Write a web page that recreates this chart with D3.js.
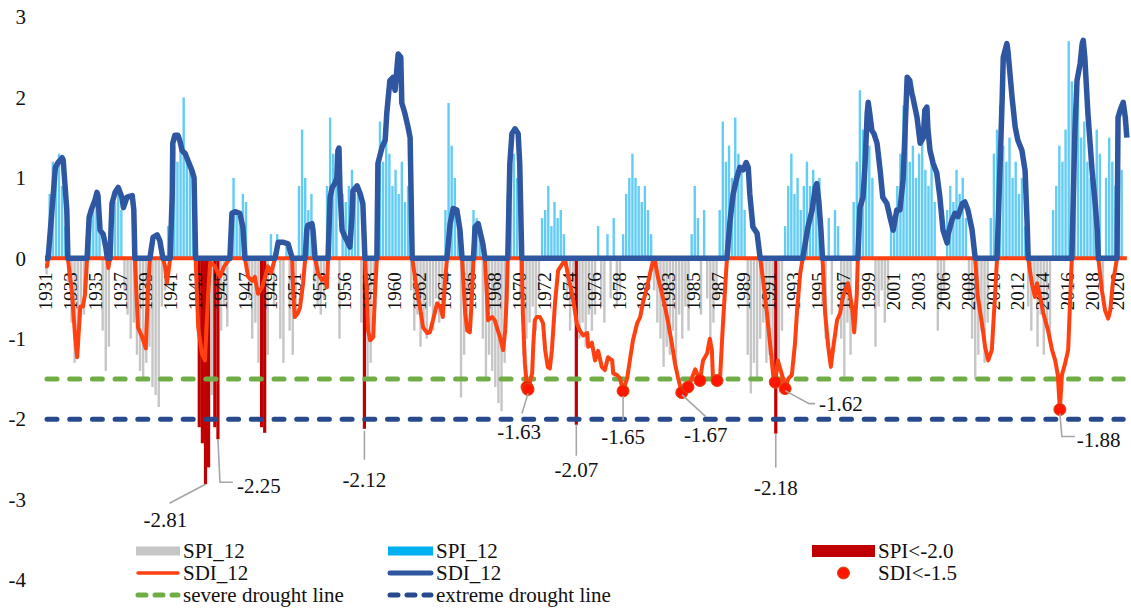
<!DOCTYPE html>
<html>
  <head>
    <meta charset="utf-8">
    <title>SPI_12 and SDI_12, 1931-2020</title>
    <script src="https://d3js.org/d3.v7.min.js"></script>
    <style>
      body { margin: 0; background: #fff; }
      svg { display: block; }
      text { font-family: "Liberation Serif", "DejaVu Serif", serif; }
    </style>
  </head>
  <body>
    <svg id="chart" width="1131" height="608"></svg>
    <script>
      // category labels, one every 24 months
      years = ["1931","1933","1935","1937","1939","1941","1943","1945","1947","1949","1951","1953","1956","1958",
        "1960","1962","1964","1966","1968","1970","1972","1974","1976","1978","1981","1983","1985","1987","1989",
        "1991","1993","1995","1997","1999","2001","2003","2006","2008","2010","2012","2014","2016","2018","2020"];
      yTicks = [3, 2, 1, 0, -1, -2, -3, -4];

      // SPI_12, read every 3 months (8 values per label step)
      spi = [
        -0.2, 0.8, 1.2, 1.0, 1.3, 0.9, 0.4, -0.3,
        -0.8, -1.3, -1.1, -0.6, -0.7, -0.3, 0.5, 0.6,
        0.7, 0.5, -0.9, -1.4, -1.1, 0.3, 0.7, 0.8,
        0.6, -0.4, -0.7, -1.0, -0.8, -1.2, -1.4, -1.5,
        -1.3, -1.1, -1.6, -1.7, -1.85, -0.6, -0.4, 0.4,
        0.5, 1.4, 1.2, 1.5, 2.0, 1.3, 1.1, 0.7,
        -0.6, -2.1, -2.3, -2.81, -2.6, -1.7, -2.1, -2.25,
        -0.9, -0.6, -0.85, 0.4, 1.0, 0.6, 0.5, 0.8,
        0.7, -0.5, -1.0, -0.8, -1.3, -2.1, -2.17, -1.2,
        0.3, -0.6, 0.3, -1.0, -1.3, 0.2, -0.9, -1.2,
        -0.7, 0.9, 1.6, 1.0, 0.6, 0.8, -0.3, -0.6,
        -0.7, -0.5, 0.9, 1.75, 1.3, 1.0, -1.0, 0.8,
        0.7, 0.9, 1.1, 0.8, 0.9, -0.8, -2.12, -1.5,
        -1.3, -0.4, 1.0, 1.7, 1.2, 1.5, 1.3, 0.9,
        1.1, 0.8, 1.2, 0.7, 0.9, -0.4, -0.9, -0.7,
        -1.1, -0.8, -1.0, -0.6, -0.9, -0.5, -0.8, -0.6,
        0.6, 1.93, 1.4, 1.0, 0.6, -1.73, -1.2, -0.9,
        -0.6, 0.6, 0.5, 0.3, -1.0, -1.5, -1.2, -1.4,
        -1.6, -1.8, -1.9, -1.3, 0.8, 1.5, 1.3, 1.0,
        -0.5, -1.2, -1.0, -0.8, -0.6, -0.9, -0.5, 0.5,
        0.6, 0.9, 0.4, 0.7, 0.5, 0.6, 0.3, -0.5,
        -0.9, -0.6, -2.07, -1.0, -0.8, -1.1, -0.7, -0.9,
        -0.7, 0.4, -0.6, -0.8, 0.3, -0.5, 0.5, -0.6,
        -0.4, 0.3, 0.8, 1.0, 1.3, 1.0, 0.9, 0.7,
        0.9, 0.6, 0.3, -0.4, -0.8, -1.0, -1.35, -1.1,
        -1.2, -0.9, -1.3, -0.7, -1.0, -0.6, -0.9, 0.3,
        0.9, 0.5, -0.7, 0.6, -0.5, -1.0, -0.8, -0.5,
        0.6, 1.7, 1.2, 1.4, 1.0, 1.75, 1.3, 1.1,
        0.6, -1.2, -1.68, -1.3, -1.5, -1.0, -0.8, -1.3,
        -1.2, -1.5, -2.18, -1.4, -0.9, 0.4, 0.9, 1.3,
        0.8, 1.0, 0.6, 0.9, 1.2, 0.9, 1.1, 0.7,
        1.0, -0.6, -1.0, 0.5, -0.7, 0.6, 0.4, -1.0,
        -1.47, -0.8, -1.2, 0.7, 1.2, 2.09, 1.6, 1.8,
        1.4, 1.0, -1.1, -0.6, -0.4, -0.8, -0.5, 0.5,
        0.4, 0.9, 1.3, 1.9, 1.6, 1.2, 1.4, 1.0,
        1.3, 1.5, 1.1, 0.9, 1.2, 0.7, -0.9, -0.6,
        -0.4, 0.6, 0.9, 0.7, 1.1, 0.8, 1.0, 0.5,
        -0.5, -1.0, -1.5, -1.2, -0.9, -1.3, -0.8, 0.5,
        1.3, 1.6, 1.9, 1.4, 1.2, 1.5, 1.0, 1.2,
        0.8, 1.0, 0.4, -0.6, -0.9, -0.5, -1.1, -0.7,
        -1.2, -0.8, -1.0, 0.6, 0.9, 1.4, 1.2, 1.6,
        2.7, 2.2, 1.8, 2.1, 1.5, 1.7, 1.2, 1.0,
        0.8, 1.6, 1.3, -0.4, 1.0, 1.5, 1.2, 0.9,
        1.3, 1.1
      ];

      // SDI_12 as [month from start, value]
      sdi = [
        [0,-0.1],[2,-0.1],[3,0],[10,1.13],[12.5,1.19],[16.5,1.25],[17.5,1.22],[21,0.6],[22,0],
        [26,-0.43],[29,-0.98],[31,-1.23],[34,-0.6],[36.5,-0.6],[38.5,-0.45],[40.5,0],
        [42.5,0.51],[44.5,0.6],[48,0.72],[50,0.82],[51,0.78],[53,0.35],[56,0.3],[58.5,0.14],[60,0],[61,-0.12],[62.5,0],
        [64.5,0.68],[67.5,0.82],[70.5,0.88],[74,0.76],[75.5,0.63],[79,0.76],[84,0.78],[85.5,0.6],[86.5,0],
        [89.5,-0.86],[93.5,-0.98],[97,-1.12],[99,-0.44],[101,0],
        [104,0.26],[108,0.29],[110.5,0.22],[113.5,0],
        [115.5,-0.1],[117.5,-0.3],[120.5,0],
        [122.5,0.8],[123,1.43],[125,1.53],[128,1.53],[130,1.45],[132,1.34],[135,1.3],[137.5,1.22],[141.5,1.09],[143.5,1.0],[145,0],
        [147.5,-0.86],[151,-1.18],[154,-1.27],[157,-0.45],[159,-0.05],[163.5,-0.1],[168.5,-0.23],[172.5,-0.1],[178,0],
        [180,0.56],[183,0.58],[187.5,0.56],[190.5,0.39],[192.5,0],
        [195.5,-0.23],[199.5,-0.28],[202,-0.23],[205,-0.44],[209,-0.36],[212,-0.23],[214.5,-0.1],[217.5,-0.18],[221.5,0],
        [224.5,0.2],[229,0.2],[234,0.18],[238,0],
        [239,-0.44],[240.5,-0.73],[243.5,-0.68],[245.5,-0.61],[248.5,-0.31],[250.5,0],
        [252,0.35],[253,0.41],[257,0.43],[258,0.35],[260,0],
        [263,-0.19],[266.5,-0.27],[269.5,-0.23],[271.5,-0.36],[272.5,0],
        [274.5,0.76],[276.5,0.88],[279,0.93],[281,1.0],[282,1.34],[283,1.37],[284,0.84],[286,0.35],[289,0.26],[291.5,0.2],
        [293.5,0.14],[295.5,0.51],[296.5,0.84],[300.5,0.9],[303.5,0.8],[306,0.68],[308,0],
        [310,-0.48],[311,-0.9],[313,-1.02],[316,-0.98],[317.5,-0.48],[319.5,0],
        [320.5,1.18],[324.5,1.38],[327.5,1.47],[329,1.8],[332,2.21],[335,2.25],[337,2.09],[340,2.54],[342.5,2.5],[343.5,1.93],
        [346.5,1.8],[349.5,1.63],[351.5,1.5],[353.5,0],
        [358,-0.4],[361,-0.61],[364,-0.86],[368,-0.93],[370.5,-0.92],[373.5,-0.77],[377.5,-0.56],[380.5,-0.61],[383,-0.73],[385,-0.31],[387,0],
        [390,0.43],[393,0.62],[396.5,0.6],[399.5,0.35],[401.5,0],
        [404.5,-0.68],[406.5,-0.9],[409,-0.92],[411,-0.48],[412.5,0],
        [414,0.39],[417,0.43],[419,0.32],[421.5,0.18],[423.5,0],
        [425.5,-0.48],[426.5,-0.77],[430.5,-0.73],[433,-0.77],[435,-0.86],[438,-0.98],[441,-1.14],[443,-0.9],[444.5,-0.48],[445.5,0],
        [447.5,1.18],[449.5,1.55],[452.5,1.61],[455.5,1.55],[457,1.18],[459,0],
        [460,-0.68],[462,-1.31],[464,-1.6],[465,-1.63],[469,-1.43],[470,-1.1],[471.5,-0.77],[473.5,-0.73],[476.5,-0.73],
        [479.5,-0.81],[481.5,-1.14],[484,-1.35],[486,-1.37],[488,-1.14],[491,-0.55],[494,-0.15],[497.5,-0.08],[500.5,-0.02],
        [503.5,-0.2],[508.5,-0.52],[512,-0.81],[515,-0.9],[518,-0.96],[522,-0.93],[523,-1.1],[526.5,-1.05],[529.5,-1.27],
        [532.5,-1.15],[536,-1.35],[539,-1.39],[542,-1.23],[546,-1.27],[547,-1.43],[550.5,-1.45],[553.5,-1.49],[556.5,-1.65],
        [560.5,-1.49],[563,-1.27],[566,-1.02],[570,-0.81],[573,-0.73],[575.5,-0.56],[579.5,-0.36],[582.5,-0.19],[585.5,-0.02],
        [587,-0.02],[590,-0.23],[594,-0.44],[597,-0.61],[600,-0.81],[603.5,-1.06],[606.5,-1.31],[609.5,-1.49],[613,-1.67],
        [619,-1.6],[623,-1.48],[626,-1.38],[630.5,-1.52],[633.5,-1.27],[637.5,-1.18],[640,-1.0],[642,-1.14],[643,-1.48],
        [647,-1.52],[650,-1.46],[652.5,-0.85],[656.5,0],
        [659.5,0.47],[662.5,0.8],[666,1.0],[669,1.13],[672,1.1],[675,1.19],[677,1.13],[678.5,0.8],[681.5,0.39],[685.5,0.31],[688.5,0],
        [693,-0.44],[698,-1.06],[701,-1.45],[703,-1.54],[705.5,-1.27],[709.5,-1.45],[712.5,-1.62],[715.5,-1.5],[719,-1.45],
        [722,-1.06],[724,-0.65],[727,-0.19],[729.5,0],
        [734.5,0.39],[738.5,0.6],[741.5,0.88],[743,0.93],[745,0.7],[747,0.35],[748.5,0],
        [751,-0.68],[754,-1.1],[756.5,-1.35],[758.5,-1.14],[762.5,-0.77],[765.5,-0.68],[768,-0.48],[773,-0.31],[777,-0.61],
        [779,-0.92],[781.5,-0.45],[782.5,0],
        [784.5,0.63],[787.5,0.76],[789.5,1.18],[791.5,1.8],[792.5,1.94],[794,1.8],[796,1.59],[798,1.55],[801,1.43],[804,1.09],
        [806.5,0.76],[810.5,0.68],[813.5,0.51],[816.5,0.35],[820,0.6],[823,0.6],[826,0.97],[828,1.59],[830,2.25],[832.5,2.21],
        [834.5,2.05],[835.5,2.0],[839.5,1.75],[842.5,1.43],[845.5,1.5],[847,1.84],[849,1.88],[850,1.6],[852,1.34],[855,1.18],
        [858.5,1.06],[861.5,0.76],[864.5,0.35],[868.5,0.19],[869.5,0.3],[873,0.47],[876,0.56],[879,0.52],[883,0.68],[885.5,0.7],
        [888.5,0.6],[892.5,0.35],[895.5,0],
        [898,-0.48],[902,-0.81],[905,-1.1],[908,-1.27],[911.5,-1.14],[914.5,-0.48],[916.5,0],
        [919.5,1.18],[921.5,2.0],[922.5,2.5],[926,2.67],[927,2.58],[931,2.0],[934,1.63],[936.5,1.47],[940.5,1.34],[943.5,1.09],
        [945.5,0.43],[946.5,0],
        [950,-0.31],[953,-0.48],[955,-0.31],[958,-0.48],[961,-0.68],[965.5,-0.89],[969.5,-1.14],[972.5,-1.27],[975,-1.45],
        [977,-1.88],[979,-1.45],[982,-1.31],[985,-1.14],[987,-0.48],[988.5,0],
        [991.5,1.59],[993.5,2.21],[996.5,2.42],[998.5,2.67],[999.5,2.71],[1001,2.5],[1004,1.8],[1008,1.09],[1011,0.68],[1013,0.35],[1014,0],
        [1017.5,-0.4],[1020.5,-0.65],[1023.5,-0.75],[1025.5,-0.65],[1028,-0.31],[1032,0],
        [1033,1.75],[1035,1.84],[1038,1.94],[1040,1.75],[1041.5,1.5]
      ];

      severeLevel = -1.5;
      extremeLevel = -2.0;
      // values that carry a callout: SPI by 3-month index, SDI by month
      spiMarked = [51, 55, 102, 170, 234];
      sdiMarked = [465, 556.5, 613, 712.5, 977];

      // colours
      cGrey = "#c6c6c6";
      cCyan = "#1fb6f0";
      cRed = "#c00000";
      cOrange = "#ff4010";
      cBlue = "#2f56a0";
      cGreen = "#70ad47";
      cNavy = "#284a8c";
      serif = "'Liberation Serif', 'DejaVu Serif', serif";

      svg = d3.select("#chart").attr("font-family", serif);
      x = d3.scaleLinear().domain([0, 1032]).range([45, 1117]);
      y = d3.scaleLinear().domain([-4, 3]).range([580, 17]);

      // SPI bars
      spiData = spi.map(function(v, i) { return {t: i * 3 + 1.5, v: v}; });
      svg.append("g")
        .selectAll("rect")
          .data(spiData.filter(function(d) { return d.v >= extremeLevel; }))
        .join("rect")
          .attr("x", function(d) { return x(d.t) - 1.2; })
          .attr("width", 2.4)
          .attr("y", function(d) { return y(Math.max(d.v, 0)); })
          .attr("height", function(d) { return Math.abs(y(d.v) - y(0)); })
          .attr("fill", function(d) { return d.v > 0 ? cCyan : cGrey; })
          .attr("opacity", function(d) { return d.v > 0 ? 0.7 : 1; });
      svg.append("g")
        .selectAll("rect")
          .data(spiData.filter(function(d) { return d.v < extremeLevel; }))
        .join("rect")
          .attr("x", function(d) { return x(d.t) - 1.6; })
          .attr("width", 3.2)
          .attr("y", y(0))
          .attr("height", function(d) { return y(d.v) - y(0); })
          .attr("fill", cRed);

      // y axis
      svg.append("g")
          .attr("transform", "translate(26,0)")
          .call(d3.axisLeft(y).tickValues(yTicks).tickSize(0).tickPadding(0)
            .tickFormat(function(d) { return String(d); }))
          .call(function(g) { g.select(".domain").remove(); })
          .attr("font-family", serif)
          .attr("font-size", 21)
        .selectAll("text")
          .attr("fill", "#111");

      // category axis along zero
      svg.append("g")
          .attr("transform", "translate(0," + y(0) + ")")
          .call(d3.axisBottom(x).tickValues(years.map(function(d, i) { return i * 24; }))
            .tickFormat(function(d, i) { return years[i]; }).tickSize(0))
          .call(function(g) { g.select(".domain").remove(); })
          .attr("font-family", serif)
          .attr("font-size", 19)
        .selectAll("text")
          .attr("fill", "#111")
          .attr("transform", "rotate(-90)")
          .attr("text-anchor", "end")
          .attr("x", -14)
          .attr("y", 0)
          .attr("dy", "0.35em");

      // drought lines
      [[severeLevel, cGreen], [extremeLevel, cNavy]].forEach(function(l) {
        svg.append("line")
          .attr("x1", x(0) + 2).attr("x2", x(1038))
          .attr("y1", y(l[0])).attr("y2", y(l[0]))
          .attr("stroke", l[1])
          .attr("stroke-width", 5)
          .attr("stroke-linecap", "round")
          .attr("stroke-dasharray", "10,12.7");
      });

      // SDI split at zero: negative part orange, positive part blue
      lineNeg = d3.line()
        .x(function(d) { return x(d[0]); })
        .y(function(d) { return y(Math.min(d[1], 0)); });
      linePos = d3.line()
        .x(function(d) { return x(d[0]); })
        .y(function(d) { return y(Math.max(d[1], 0)); });
      svg.append("path")
        .datum(sdi)
        .attr("d", lineNeg)
        .attr("fill", "none")
        .attr("stroke", cOrange)
        .attr("stroke-width", 4)
        .attr("stroke-linejoin", "round");
      svg.append("path")
        .datum(sdi)
        .attr("d", linePos)
        .attr("fill", "none")
        .attr("stroke", cBlue)
        .attr("stroke-width", 5.5)
        .attr("stroke-linejoin", "round");

      // SDI < -1.5 points
      svg.append("g")
        .selectAll("circle")
          .data(sdi.filter(function(d) { return d[1] < severeLevel; }))
        .join("circle")
          .attr("cx", function(d) { return x(d[0]); })
          .attr("cy", function(d) { return y(d[1]); })
          .attr("r", 6)
          .attr("fill", "#ff1500")
          .attr("stroke", "#d84a10")
          .attr("stroke-width", 1);

      // callouts, sorted left to right; leader and text offsets are layout only
      marks = spiMarked.map(function(i) { return [spiData[i].t, spiData[i].v]; })
        .concat(sdi.filter(function(d) { return sdiMarked.indexOf(d[0]) >= 0; }))
        .sort(function(a, b) { return a[0] - b[0]; });
      layout = [
        {path: [[0, 0], [-36, 19]], text: [-40, 36], anchor: "middle"},
        {path: [[0, 0], [2, 43], [15, 43]], text: [19, 47], anchor: "start"},
        {path: [[0, 2], [0, 31]], text: [0, 51], anchor: "middle"},
        {path: [[0, 4], [-6, 24]], text: [-9, 43], anchor: "middle"},
        {path: [[0, 0], [0, 31]], text: [0, 45], anchor: "middle"},
        {path: [[0, 5], [0, 29]], text: [0, 46], anchor: "middle"},
        {path: [[0, 2], [24, 24]], text: [24, 42], anchor: "middle"},
        {path: [[0, 0], [0, 34]], text: [0, 54], anchor: "middle"},
        {path: [[0, 2], [24, 15], [30, 15]], text: [34, 15], anchor: "start"},
        {path: [[0, 4], [2, 27], [15, 27]], text: [17, 31], anchor: "start"}
      ];
      callouts = svg.append("g");
      marks.forEach(function(m, i) {
        px = x(m[0]);
        py = y(m[1]);
        lay = layout[i];
        callouts.append("path")
          .attr("d", d3.line()(lay.path.map(function(p) { return [px + p[0], py + p[1]]; })))
          .attr("fill", "none")
          .attr("stroke", "#a6a6a6")
          .attr("stroke-width", 1.6);
        callouts.append("text")
          .attr("x", px + lay.text[0])
          .attr("y", py + lay.text[1])
          .attr("text-anchor", lay.anchor)
          .attr("dominant-baseline", "central")
          .attr("font-size", 21)
          .attr("fill", "#111")
          .text(m[1].toFixed(2));
      });

      // legend
      legend = svg.append("g").attr("font-size", 21).attr("fill", "#111");
      legendItems = [
        {col: 0, row: 0, kind: "bar", color: cGrey, name: "SPI_12"},
        {col: 0, row: 1, kind: "line", color: cOrange, name: "SDI_12"},
        {col: 0, row: 2, kind: "dash", color: cGreen, name: "severe drought line"},
        {col: 1, row: 0, kind: "bar", color: "#00b0f0", name: "SPI_12"},
        {col: 1, row: 1, kind: "line", color: cBlue, name: "SDI_12"},
        {col: 1, row: 2, kind: "dash", color: cNavy, name: "extreme drought line"},
        {col: 2, row: 0, kind: "bar", color: cRed, name: "SPI<-2.0"},
        {col: 2, row: 1, kind: "dot", color: "#ff1500", name: "SDI<-1.5"}
      ];
      colX = [[136, 180], [388, 433], [812, 875]];
      rowY = [551, 573, 595];
      legendItems.forEach(function(it) {
        x0 = colX[it.col][0];
        x1 = colX[it.col][1];
        yy = rowY[it.row];
        if (it.kind === "bar") {
          h = it.col === 2 ? 12 : 9;
          legend.append("rect").attr("x", x0).attr("y", yy - h / 2)
            .attr("width", x1 - x0).attr("height", h).attr("fill", it.color);
        } else if (it.kind === "line" || it.kind === "dash") {
          ln = legend.append("line").attr("x1", x0 + 2).attr("x2", x1 - 2)
            .attr("y1", yy).attr("y2", yy).attr("stroke", it.color)
            .attr("stroke-linecap", "round")
            .attr("stroke-width", it.kind === "dash" ? 5 : (it.color === cBlue ? 5 : 3.5));
          if (it.kind === "dash") ln.attr("stroke-dasharray", "8,9");
        } else {
          legend.append("circle").attr("cx", (x0 + x1) / 2).attr("cy", yy).attr("r", 6)
            .attr("fill", it.color).attr("stroke", "#d84a10");
        }
        legend.append("text")
          .attr("x", x1 + 3)
          .attr("y", yy)
          .attr("dominant-baseline", "central")
          .text(it.name);
      });
    </script>
  </body>
</html>
